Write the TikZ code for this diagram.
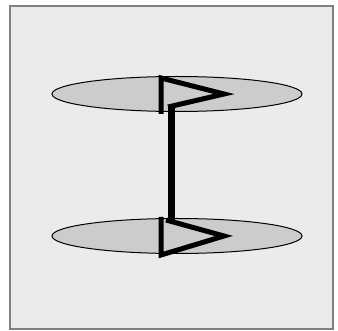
\documentclass[tikz,border=0pt]{standalone}
\begin{document}
\begin{tikzpicture}[x=1pt,y=-1pt,
  frame/.style={draw=black!50,fill=black!8,line width=2pt},
  disc/.style={draw=black,fill=black!20,line width=1pt},
  glyph/.style={draw=black,line width=5pt,line join=miter}]
\useasboundingbox (0,0) rectangle (338,331);
\fill[white] (0,0) rectangle (338,331);
\draw[frame] (10,6) rectangle (333,329);
\draw[disc] (177,94) ellipse [x radius=125,y radius=17.5];
\draw[disc] (177,236) ellipse [x radius=125,y radius=17.5];
\draw[glyph] (161,114) -- (161,78) -- (224,94) -- (168,107);
\draw[black,line width=7pt] (171,105) -- (171,221);
\draw[glyph] (166,220) -- (224,236) -- (161,255) -- (161,217);
\end{tikzpicture}
\end{document}
